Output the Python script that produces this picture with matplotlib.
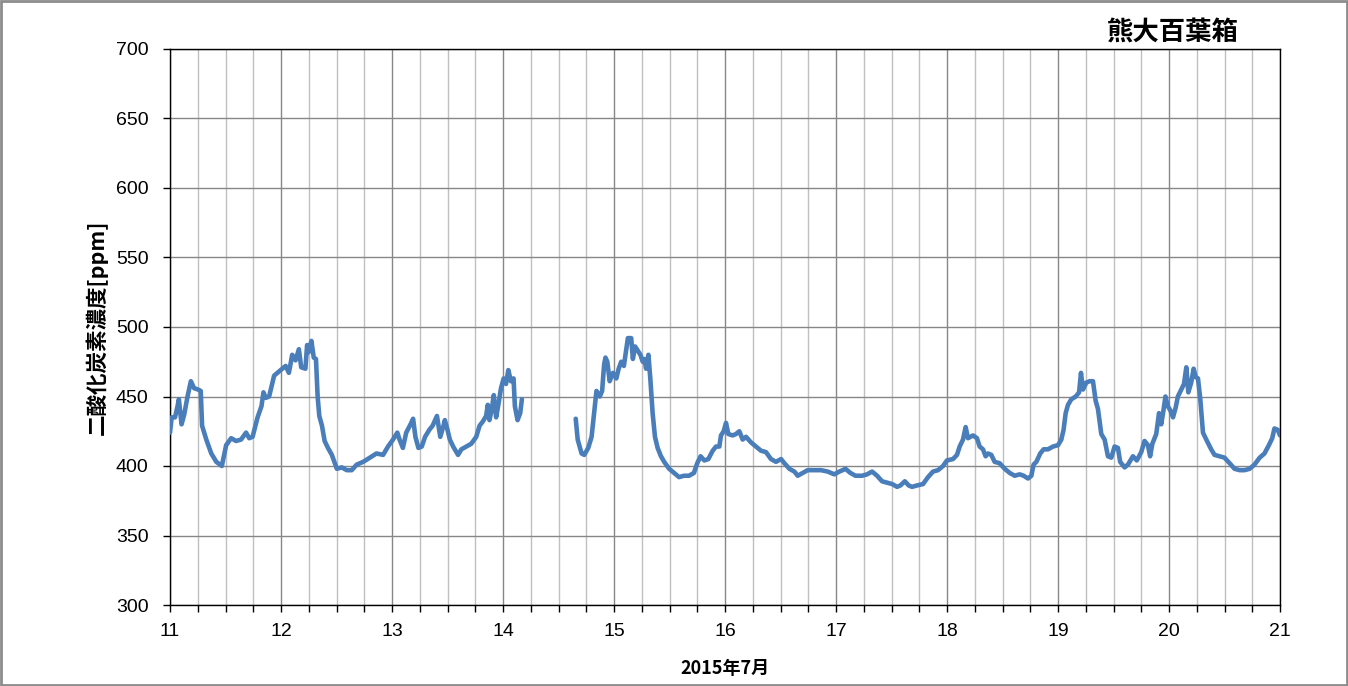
import numpy as np
import matplotlib.pyplot as plt
from matplotlib.ticker import MultipleLocator, FixedLocator
from matplotlib.patches import Rectangle

# day of July 2015 (fractional) and CO2 concentration
day = [
    11.000, 11.015, 11.045, 11.068, 11.080, 11.104, 11.128, 11.158, 11.188, 11.217,
    11.253, 11.277, 11.289, 11.327, 11.372, 11.417, 11.467, 11.506, 11.551, 11.595,
    11.640, 11.685, 11.714, 11.744, 11.789, 11.824, 11.842, 11.863, 11.893, 11.923,
    11.938, 11.967, 11.997, 12.042, 12.071, 12.101, 12.131, 12.161, 12.182, 12.220,
    12.235, 12.250, 12.274, 12.295, 12.315, 12.330, 12.345, 12.369, 12.393, 12.423,
    12.458, 12.503, 12.548, 12.592, 12.637, 12.682, 12.741, 12.801, 12.860, 12.920,
    12.964, 13.009, 13.048, 13.068, 13.098, 13.128, 13.167, 13.190, 13.211, 13.238,
    13.268, 13.298, 13.336, 13.366, 13.405, 13.435, 13.464, 13.476, 13.500, 13.521,
    13.551, 13.595, 13.625, 13.670, 13.714, 13.759, 13.789, 13.818, 13.848, 13.863,
    13.878, 13.899, 13.917, 13.938, 13.958, 13.982, 14.006, 14.027, 14.048, 14.071,
    14.095, 14.107, 14.131, 14.155, 14.170,
    14.400,
    14.655, 14.673, 14.708, 14.732, 14.768, 14.798, 14.827, 14.842, 14.872, 14.893,
    14.911, 14.923, 14.940, 14.961, 14.991, 15.021, 15.042, 15.065, 15.089, 15.110,
    15.125, 15.155, 15.170, 15.190, 15.214, 15.238, 15.259, 15.274, 15.289, 15.310,
    15.327, 15.348, 15.369, 15.393, 15.423, 15.452, 15.497, 15.542, 15.586, 15.631,
    15.676, 15.720, 15.750, 15.780, 15.814, 15.850, 15.889, 15.919, 15.949, 15.964,
    15.988, 16.009, 16.030, 16.069, 16.099, 16.129, 16.159, 16.189, 16.234, 16.279,
    16.324, 16.369, 16.414, 16.459, 16.505, 16.535, 16.580, 16.625, 16.655, 16.700,
    16.745, 16.805, 16.865, 16.925, 16.985, 17.030, 17.060, 17.085, 17.130, 17.175,
    17.235, 17.280, 17.325, 17.370, 17.415, 17.460, 17.506, 17.550, 17.580, 17.620,
    17.655, 17.685, 17.730, 17.784, 17.829, 17.874, 17.919, 17.964, 18.000, 18.054,
    18.090, 18.114, 18.144, 18.168, 18.189, 18.234, 18.270, 18.294, 18.324, 18.348,
    18.369, 18.399, 18.429, 18.474, 18.520, 18.565, 18.610, 18.655, 18.690, 18.730,
    18.760, 18.780, 18.805, 18.840, 18.870, 18.910, 18.955, 19.000, 19.030, 19.050,
    19.069, 19.090, 19.120, 19.160, 19.190, 19.207, 19.225, 19.255, 19.285, 19.315,
    19.339, 19.360, 19.390, 19.420, 19.450, 19.480, 19.510, 19.540, 19.560, 19.600,
    19.630, 19.675, 19.710, 19.750, 19.780, 19.810, 19.830, 19.850, 19.885, 19.910,
    19.930, 19.950, 19.968, 19.990, 20.012, 20.036, 20.060, 20.080, 20.110, 20.135,
    20.156, 20.174, 20.200, 20.222, 20.240, 20.261, 20.282, 20.306, 20.342, 20.380,
    20.410, 20.456, 20.500, 20.546, 20.590, 20.637, 20.680, 20.727, 20.770, 20.817,
    20.860, 20.900, 20.930, 20.950, 20.980, 21.000,
]
co2 = [
    424, 435, 435, 443, 448, 430, 437, 450, 461, 456,
    455, 454, 429, 419, 409, 403, 400, 415, 420, 418,
    419, 424, 420, 421, 435, 443, 453, 449, 450, 460,
    465, 467, 469, 472, 467, 480, 476, 484, 471, 470,
    487, 482, 490, 478, 477, 450, 436, 429, 418, 413,
    408, 398, 399, 397, 397, 401, 403, 406, 409, 408,
    414, 419, 424, 419, 413, 424, 430, 434, 421, 413,
    414, 421, 426, 429, 436, 421, 429, 433, 426, 419,
    414, 408, 412, 414, 416, 421, 429, 432, 436, 444,
    433, 441, 451, 435, 444, 456, 463, 459, 469, 461,
    463, 443, 433, 438, 448,
    np.nan,
    434, 419, 409, 408, 413, 421, 443, 454, 450, 454,
    473, 478, 475, 461, 467, 463, 470, 475, 472, 484,
    492, 492, 477, 486, 483, 480, 475, 477, 470, 480,
    463, 438, 421, 413, 407, 403, 398, 395, 392, 393,
    393, 395, 402, 407, 404, 405, 411, 414, 414, 422,
    425, 431, 423, 422, 423, 425, 419, 421, 417, 414,
    411, 410, 405, 403, 405, 402, 398, 396, 393, 395,
    397, 397, 397, 396, 394, 396, 397, 398, 395, 393,
    393, 394, 396, 393, 389, 388, 387, 385, 386, 389,
    386, 385, 386, 387, 392, 396, 397, 400, 404, 405,
    408, 414, 419, 428, 420, 422, 420, 414, 412, 407,
    409, 408, 403, 402, 398, 395, 393, 394, 393, 391,
    393, 401, 403, 409, 412, 412, 414, 415, 419, 426,
    438, 444, 448, 450, 453, 467, 455, 460, 461, 461,
    447, 441, 423, 419, 407, 406, 414, 413, 403, 399,
    401, 407, 404, 410, 418, 415, 407, 416, 423, 438,
    430, 440, 450, 443, 440, 435, 442, 450, 455, 459,
    471, 453, 460, 470, 464, 463, 448, 424, 418, 412,
    408, 407, 406, 402, 398, 397, 397, 398, 401, 406,
    409, 415, 420, 427, 426, 422,
]

x_ticks = list(range(11, 22))
y_ticks = list(range(300, 701, 50))

cjk = ['Noto Sans CJK JP', 'DejaVu Sans']
num_font = 'Liberation Sans'

fig = plt.figure(figsize=(13.48, 6.86), dpi=100)
ax = fig.add_axes([170 / 1348, 1 - 605 / 686, 1110 / 1348, 556 / 686])

ax.plot(day, co2, color='#4A7EBB', lw=3.3, solid_joinstyle='round',
        solid_capstyle='round', zorder=3)

ax.set_xlim(11, 21)
ax.set_ylim(300, 700)
ax.xaxis.set_major_locator(FixedLocator(x_ticks))
ax.xaxis.set_minor_locator(MultipleLocator(0.25))
ax.yaxis.set_major_locator(FixedLocator(y_ticks))

ax.grid(which='major', axis='both', color='#878787', lw=1.0)
ax.grid(which='minor', axis='x', color='#C0C0C0', lw=1.0)
ax.set_axisbelow(True)

for s in ax.spines.values():
    s.set_color('black')
    s.set_linewidth(1.0)

ax.tick_params(axis='both', which='both', direction='out', length=5, width=1, color='black')
ax.tick_params(axis='y', pad=10.5)
ax.tick_params(axis='x', pad=8)
for lab in ax.get_xticklabels() + ax.get_yticklabels():
    lab.set_fontfamily(num_font)
    lab.set_fontsize(14)

ax.set_xlabel('2015年7月', family=cjk, fontsize=13, fontweight='bold', labelpad=14)
ax.set_ylabel('二酸化炭素濃度[ppm]', family=cjk, fontsize=15.5, fontweight='bold', labelpad=6)

fig.text(1173 / 1348, 1 - 32 / 686, '熊大百葉箱', family=cjk, fontsize=19,
         fontweight='bold', ha='center', va='center')

fig.patches.append(Rectangle((0.001, 0.002), 0.998, 0.996, transform=fig.transFigure,
                             fill=False, edgecolor='#8C8C8C', lw=2))

fig.savefig('out.png', dpi=100)
